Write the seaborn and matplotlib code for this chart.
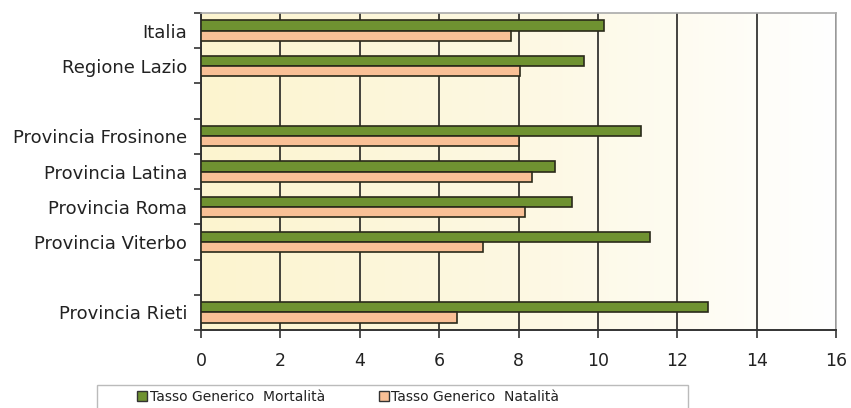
import numpy as np
import pandas as pd
import matplotlib
matplotlib.use("Agg")
import matplotlib.pyplot as plt
from matplotlib.colors import LinearSegmentedColormap
from matplotlib.patches import Rectangle
import seaborn as sns

# Territories (blank slots separate the groups)
categorie = ["Italia", "Regione Lazio", "Provincia Frosinone", "Provincia Latina",
             "Provincia Roma", "Provincia Viterbo", "Provincia Rieti"]
ordine = ["Italia", "Regione Lazio", " ", "Provincia Frosinone", "Provincia Latina",
          "Provincia Roma", "Provincia Viterbo", "  ", "Provincia Rieti"]
mortalita = [10.15, 9.65, 11.08, 8.92, 9.34, 11.31, 12.78]
natalita = [7.82, 8.05, 8.02, 8.34, 8.16, 7.11, 6.45]
serie = ["Tasso Generico  Mortalità", "Tasso Generico  Natalità"]
xticks = [0, 2, 4, 6, 8, 10, 12, 14, 16]

df = pd.DataFrame({
    "Territorio": categorie * 2,
    "Serie": [serie[0]] * len(categorie) + [serie[1]] * len(categorie),
    "Valore": mortalita + natalita,
})

sns.set_theme(style="white")
plt.rcParams["font.family"] = ["DejaVu Sans"]

fig = plt.figure(figsize=(8.51, 4.08), dpi=100)
ax = fig.add_axes([201 / 851, 1 - 330 / 408, 635 / 851, 317 / 408])

palette = {serie[0]: "#6F9231", serie[1]: "#F9C096"}
sns.barplot(data=df, y="Territorio", x="Valore", hue="Serie", order=ordine,
            hue_order=serie, palette=palette, orient="h", width=0.58,
            edgecolor="#2a2a1a", linewidth=1.2, saturation=1, legend=False,
            ax=ax, zorder=3)

ax.set_xlim(0, 16)
ax.set_ylim(len(ordine) - 0.5, -0.5)

# cream-to-white gradient background
cmap = LinearSegmentedColormap.from_list("bg", ["#FCF4CF", "#FDF8E2", "#FFFFFF"])
grad = np.linspace(0, 1, 256).reshape(1, -1)
ax.imshow(grad, cmap=cmap, aspect="auto", extent=[0, 16, len(ordine) - 0.5, -0.5],
          zorder=0)

ax.set_xticks(xticks)
ax.set_xticklabels([str(t) for t in xticks])
ax.xaxis.grid(True, color="#111111", linewidth=1.1, zorder=1)
ax.set_axisbelow(True)
ax.yaxis.grid(False)

# category ticks on slot boundaries, labels centred in slots
ax.set_yticks(np.arange(len(ordine)))
ax.set_yticklabels(ordine)
ax.set_yticks(np.arange(-0.5, len(ordine), 1.0), minor=True)
ax.tick_params(axis="y", which="major", length=0, pad=10, labelsize=13,
               labelcolor="#222222")
ax.tick_params(axis="y", which="minor", length=5, width=1.2, color="#333333",
               direction="out", left=True)
ax.tick_params(axis="x", which="major", length=6, width=1.2, color="#333333",
               direction="out", bottom=True, pad=10, labelsize=12.5,
               labelcolor="#222222")

ax.set_xlabel("")
ax.set_ylabel("")
for side in ["left", "bottom"]:
    ax.spines[side].set_color("#333333")
    ax.spines[side].set_linewidth(1.4)
for side in ["top", "right"]:
    ax.spines[side].set_color("#aaaaaa")
    ax.spines[side].set_linewidth(1.2)

# legend below the plot area
handles = [Rectangle((0, 0), 1, 1, facecolor=palette[s], edgecolor="#333333",
                     linewidth=1.0) for s in serie]
fig.legend(handles, serie, loc="center left", ncol=2, frameon=False,
           bbox_to_anchor=(137 / 851, 1 - 397 / 408), fontsize=10,
           handlelength=0.7, handleheight=0.7, handletextpad=0.2,
           columnspacing=3.9, borderaxespad=0, borderpad=0,
           labelcolor="#222222")
fig.patches.append(Rectangle((97 / 851, -0.05), 591 / 851, 0.05 + 1 - 385 / 408,
                             transform=fig.transFigure, facecolor="none",
                             edgecolor="#bbbbbb", linewidth=1.0))

fig.savefig("out.png", dpi=100)
